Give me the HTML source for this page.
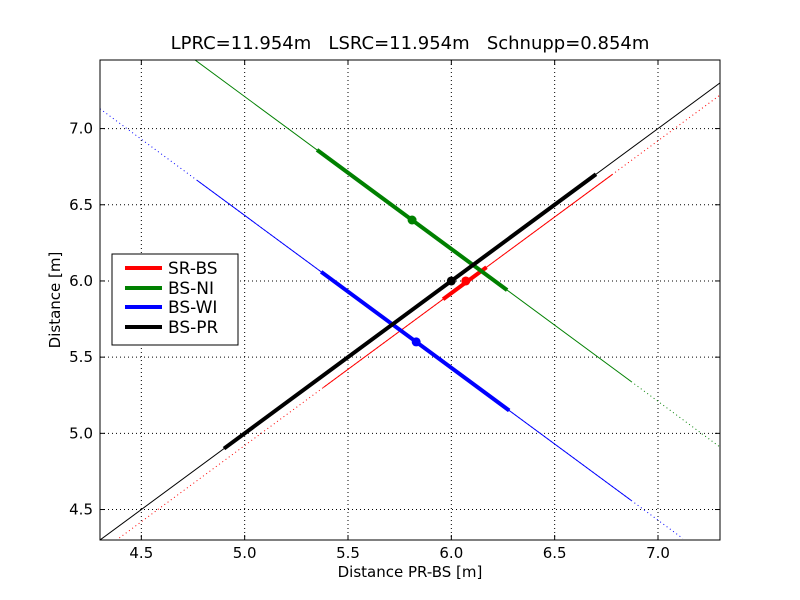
<!DOCTYPE html>
<html><head><meta charset="utf-8"><style>
body{margin:0;background:#fff;}
svg{display:block;font-family:"DejaVu Sans","Liberation Sans",sans-serif;}
</style></head><body>
<svg id="chart" width="800" height="600" xmlns="http://www.w3.org/2000/svg">
<rect width="800" height="600" fill="#fff"/>
<text x="410" y="49" font-size="18" text-anchor="middle" style="white-space:pre" xml:space="preserve">LPRC=11.954m   LSRC=11.954m   Schnupp=0.854m</text>
<g id="grid"></g>
<g id="series"></g>
<rect x="100" y="60" width="620" height="480" fill="none" stroke="#000" stroke-width="1"/>
<g id="ticks"></g>
<text x="410" y="577" font-size="15" text-anchor="middle">Distance PR-BS [m]</text>
<text transform="translate(60,300) rotate(-90)" font-size="15" text-anchor="middle">Distance [m]</text>
<g>
<rect x="112" y="254" width="126" height="91" fill="#fff" stroke="#000"/>
<line x1="125" y1="268" x2="162" y2="268" stroke="#f00" stroke-width="4"/><text x="168" y="274" font-size="17">SR-BS</text>
<line x1="125" y1="288" x2="162" y2="288" stroke="#008000" stroke-width="4"/><text x="168" y="294" font-size="17">BS-NI</text>
<line x1="125" y1="307" x2="162" y2="307" stroke="#00f" stroke-width="4"/><text x="168" y="313" font-size="17">BS-WI</text>
<line x1="125" y1="327" x2="162" y2="327" stroke="#000" stroke-width="4"/><text x="168" y="333" font-size="17">BS-PR</text>
</g>
</svg>
<script>
const xTicks=[4.5,5.0,5.5,6.0,6.5,7.0];
const yTicks=[4.5,5.0,5.5,6.0,6.5,7.0];
const seriesNames=["SR-BS","BS-NI","BS-WI","BS-PR"];
const seriesColors=["#f00","#008000","#00f","#000"];
const slopes=[1,-1,-1,1];
const intercepts=[-0.08,12.21,11.43,0];
const dottedRange=[[4.3,7.3],[6.87,7.3],[4.3,7.12],[4.3,4.3]];
const thinRange=[[5.38,6.78],[4.7,6.87],[4.77,6.87],[4.3,7.3]];
const thickRange=[[5.96,6.17],[5.35,6.27],[5.37,6.28],[4.9,6.7]];
const pointX=[6.07,5.81,5.83,6.0];
const pointY=[6.0,6.4,5.6,6.0];
const X0=4.3,X1=7.3,Y0=4.3,Y1=7.45;
const sx=v=>100+(v-X0)/(X1-X0)*620;
const sy=v=>540-(v-Y0)/(Y1-Y0)*480;
const NS="http://www.w3.org/2000/svg";
function mk(tag,parent,attrs){const e=document.createElementNS(NS,tag);for(const k in attrs)e.setAttribute(k,attrs[k]);parent.appendChild(e);return e;}
const grid=document.getElementById('grid'),ticks=document.getElementById('ticks'),ser=document.getElementById('series');
xTicks.forEach(t=>{const x=sx(t);
 const g=mk('line',grid,{x1:x,x2:x,y1:60,y2:540,stroke:'#000','stroke-dasharray':'1,3'});
 
 
 mk('line',ticks,{x1:x,x2:x,y1:540,y2:535,stroke:'#000'});
 mk('line',ticks,{x1:x,x2:x,y1:60,y2:65,stroke:'#000'});
 const l=mk('text',ticks,{x:x,y:558,'font-size':15,'text-anchor':'middle'});l.textContent=t.toFixed(1);
 
 });
yTicks.forEach(t=>{const y=sy(t);
 const g=mk('line',grid,{x1:100,x2:720,y1:y,y2:y,stroke:'#000','stroke-dasharray':'1,3'});
 
 
 mk('line',ticks,{x1:100,x2:105,y1:y,y2:y,stroke:'#000'});
 mk('line',ticks,{x1:720,x2:715,y1:y,y2:y,stroke:'#000'});
 const l=mk('text',ticks,{x:93,y:y+5,'font-size':15,'text-anchor':'end'});l.textContent=t.toFixed(1);
 
 });
const cp=mk('clipPath',ser,{id:'cp'});mk('rect',cp,{x:100,y:60,width:620,height:480});
ser.setAttribute('clip-path','url(#cp)');
function seg(i,r,w,dash,name){const f=x=>slopes[i]*x+intercepts[i];
 if(r[1]<=r[0])return;
 const a={x1:sx(r[0]),y1:sy(f(r[0])),x2:sx(r[1]),y2:sy(f(r[1])),stroke:seriesColors[i],'stroke-width':w};
 if(dash)a['stroke-dasharray']=dash;
 const e=mk('line',ser,a);
 
 }
seriesNames.forEach((n,i)=>{
 seg(i,dottedRange[i],1,'1,3','dotted-'+n.toLowerCase());
 seg(i,thinRange[i],1,null,'line-'+n.toLowerCase());
 seg(i,thickRange[i],4,null,'thick-'+n.toLowerCase());
});
seriesNames.forEach((n,i)=>{
 const c=mk('circle',ser,{cx:sx(pointX[i]),cy:sy(pointY[i]),r:4.5,fill:seriesColors[i]});
 
 
});
</script>
</body></html>
